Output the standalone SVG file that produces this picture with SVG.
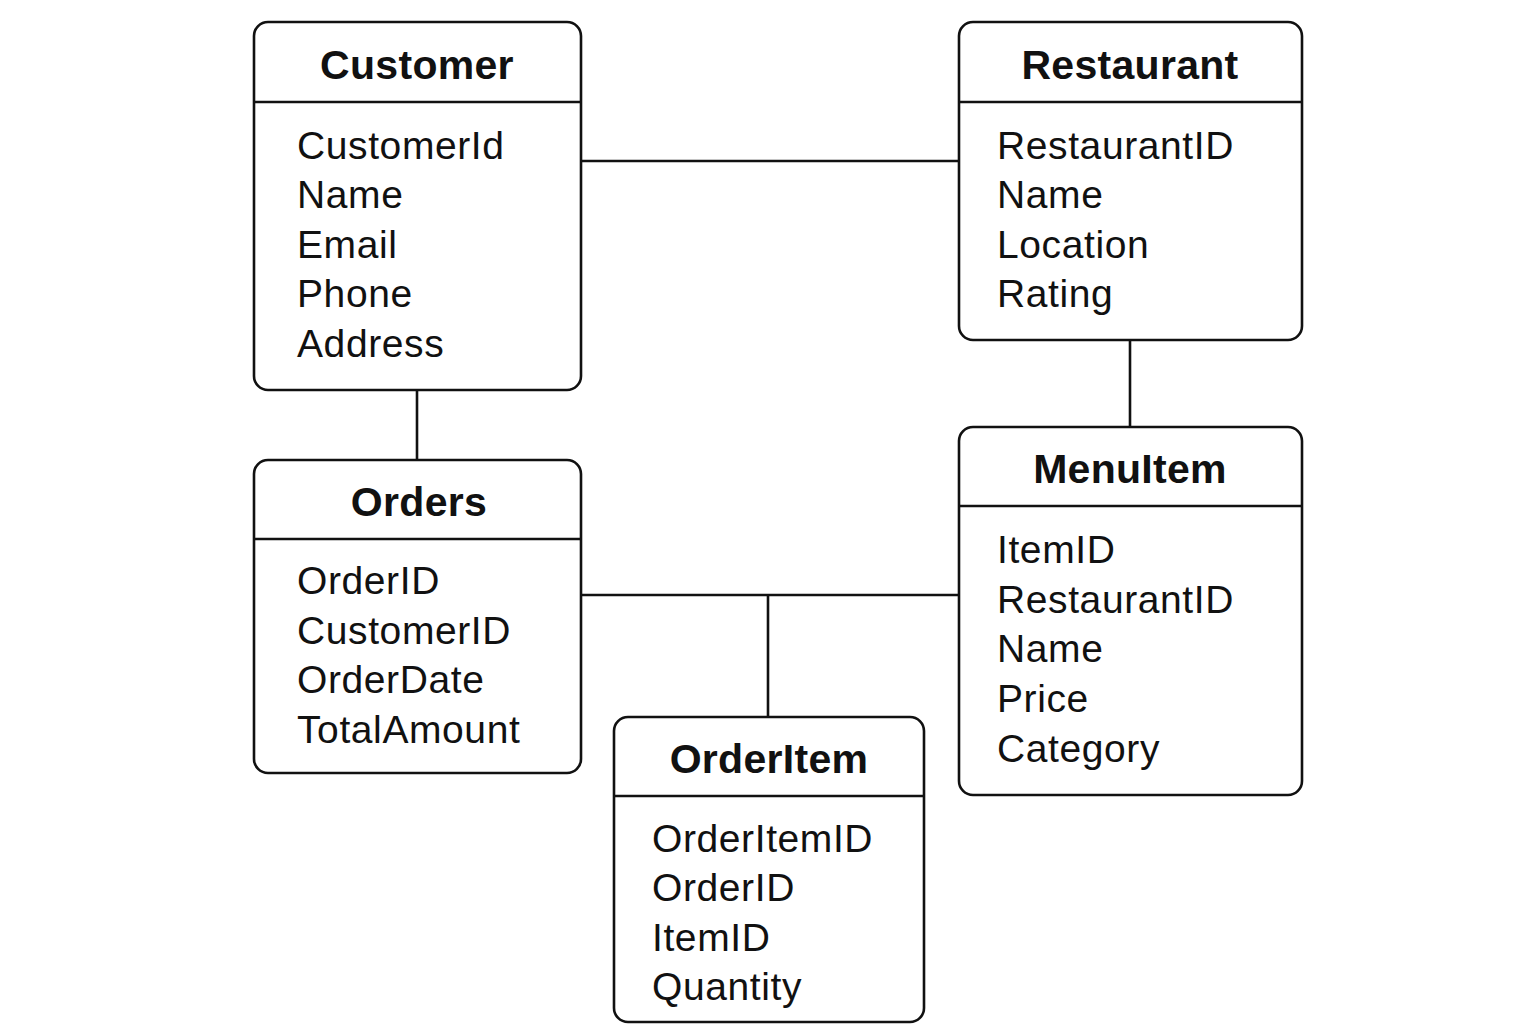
<svg xmlns="http://www.w3.org/2000/svg" width="1536" height="1024" viewBox="0 0 1536 1024">
<style>
.box{fill:#fff;stroke:#111;stroke-width:2.6}
.sep{stroke:#111;stroke-width:2.6}
.conn line{stroke:#111;stroke-width:2.6}
.title{font-family:"Liberation Sans",Arial,sans-serif;font-weight:bold;font-size:41px;letter-spacing:0.3px;fill:#111;text-anchor:middle}
.attr{font-family:"Liberation Sans",Arial,sans-serif;font-size:39px;letter-spacing:0.6px;fill:#111}
</style>
<rect width="1536" height="1024" fill="#fff"/>
<g id="connectors" class="conn">
<line x1="581" y1="161" x2="959" y2="161"/>
<line x1="1130" y1="340" x2="1130" y2="427"/>
<line x1="417" y1="390" x2="417" y2="460"/>
<line x1="581" y1="595" x2="959" y2="595"/>
<line x1="768" y1="595" x2="768" y2="717"/>
</g>
<g id="customer">
<rect class="box" x="254" y="22" width="327" height="368" rx="14"/>
<line class="sep" x1="254" y1="102" x2="581" y2="102"/>
<text class="title" x="417" y="79">Customer</text>
<text class="attr" x="297" y="159">CustomerId</text>
<text class="attr" x="297" y="208">Name</text>
<text class="attr" x="297" y="258">Email</text>
<text class="attr" x="297" y="307">Phone</text>
<text class="attr" x="297" y="357">Address</text>
</g>
<g id="restaurant">
<rect class="box" x="959" y="22" width="343" height="318" rx="14"/>
<line class="sep" x1="959" y1="102" x2="1302" y2="102"/>
<text class="title" x="1130" y="79">Restaurant</text>
<text class="attr" x="997" y="159">RestaurantID</text>
<text class="attr" x="997" y="208">Name</text>
<text class="attr" x="997" y="258">Location</text>
<text class="attr" x="997" y="307">Rating</text>
</g>
<g id="menuitem">
<rect class="box" x="959" y="427" width="343" height="368" rx="14"/>
<line class="sep" x1="959" y1="506" x2="1302" y2="506"/>
<text class="title" x="1130" y="483">MenuItem</text>
<text class="attr" x="997" y="563">ItemID</text>
<text class="attr" x="997" y="613">RestaurantID</text>
<text class="attr" x="997" y="662">Name</text>
<text class="attr" x="997" y="712">Price</text>
<text class="attr" x="997" y="762">Category</text>
</g>
<g id="orders">
<rect class="box" x="254" y="460" width="327" height="313" rx="14"/>
<line class="sep" x1="254" y1="539" x2="581" y2="539"/>
<text class="title" x="419" y="516">Orders</text>
<text class="attr" x="297" y="594">OrderID</text>
<text class="attr" x="297" y="644">CustomerID</text>
<text class="attr" x="297" y="693">OrderDate</text>
<text class="attr" x="297" y="743">TotalAmount</text>
</g>
<g id="orderitem">
<rect class="box" x="614" y="717" width="310" height="305" rx="14"/>
<line class="sep" x1="614" y1="796" x2="924" y2="796"/>
<text class="title" x="769" y="773">OrderItem</text>
<text class="attr" x="652" y="852">OrderItemID</text>
<text class="attr" x="652" y="901">OrderID</text>
<text class="attr" x="652" y="951">ItemID</text>
<text class="attr" x="652" y="1000">Quantity</text>
</g>
</svg>
